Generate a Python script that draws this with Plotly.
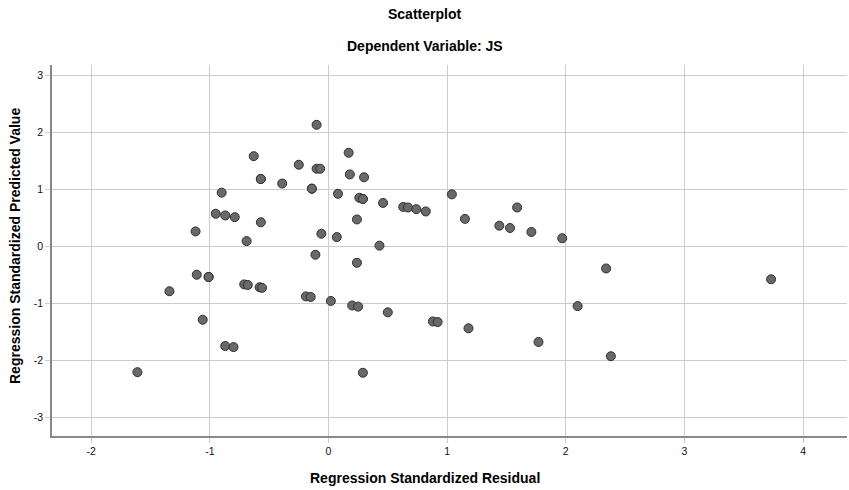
import plotly.graph_objects as go

# Regression standardized residual (x) and standardized predicted value (y)
residual = [-0.10, -0.63, 0.17, -0.25, -0.10, -0.07, -0.57, -0.57, -0.39, 0.18,
            0.30, -0.14, -0.14, -0.90, 0.08, 0.26, 0.29, 0.29, 0.46, 0.63,
            0.67, 0.74, 0.82, -0.95, -0.87, -0.79, 0.24, -0.57, -1.12, -0.06,
            0.07, -0.69, 0.43, -0.11, 0.24, -1.11, -1.01, -1.01, -0.71, -0.68,
            -0.58, -0.56, -1.34, -0.19, -0.15, 0.02, 0.20, 0.25, 0.50, 0.88,
            0.92, -1.06, -0.87, -0.80, -1.61, 0.29, 1.04, 1.15, 1.59, 1.44,
            1.53, 1.71, 1.97, 2.34, 3.73, 2.10, 1.18, 1.77, 2.38]
predicted = [2.13, 1.58, 1.64, 1.43, 1.36, 1.36, 1.18, 1.18, 1.10, 1.26,
             1.21, 1.01, 1.01, 0.94, 0.92, 0.85, 0.83, 0.83, 0.76, 0.69,
             0.68, 0.65, 0.61, 0.57, 0.54, 0.51, 0.47, 0.42, 0.26, 0.22,
             0.16, 0.09, 0.01, -0.15, -0.29, -0.50, -0.54, -0.54, -0.67, -0.68,
             -0.72, -0.73, -0.79, -0.88, -0.89, -0.96, -1.04, -1.06, -1.16, -1.32,
             -1.33, -1.29, -1.75, -1.77, -2.21, -2.22, 0.91, 0.48, 0.68, 0.36,
             0.32, 0.25, 0.14, -0.39, -0.58, -1.05, -1.44, -1.68, -1.93]

x_ticks = [-2, -1, 0, 1, 2, 3, 4]
y_ticks = [-3, -2, -1, 0, 1, 2, 3]

title_main = "Scatterplot"
title_sub = "Dependent Variable: JS"
x_title = "Regression Standardized Residual"
y_title = "Regression Standardized Predicted Value"

W, H = 849, 490
ML, MR, MT, MB = 52, 2, 65, 54
plot_w = W - ML - MR
plot_h = H - MT - MB

tick_font = dict(family="Liberation Sans Narrow, Arial Narrow, Liberation Sans, Arial", size=10.5, color="#111111")
bold_font = dict(family="Liberation Sans, Arial, sans-serif", size=14, color="#000000")


def py2paper(py):
    return 1 + (MT - py) / plot_h


def px2paper(px):
    return (px - ML) / plot_w


fig = go.Figure()
fig.add_trace(go.Scatter(
    x=residual, y=predicted, mode="markers",
    marker=dict(size=9, color="#696969", line=dict(color="#303030", width=1)),
    hoverinfo="x+y", showlegend=False,
))

annotations = [
    dict(text="<b>%s</b>" % title_main, x=px2paper(W / 2), y=py2paper(14)),
    dict(text="<b>%s</b>" % title_sub, x=px2paper(W / 2), y=py2paper(46)),
    dict(text="<b>%s</b>" % x_title, x=px2paper(W / 2), y=py2paper(478)),
    dict(text="<b>%s</b>" % y_title, x=px2paper(15), y=py2paper(246), textangle=-90),
]
for a in annotations:
    a.update(xref="paper", yref="paper", showarrow=False, font=bold_font,
             xanchor="center", yanchor="middle")

fig.update_layout(
    width=W, height=H,
    margin=dict(l=ML, r=MR, t=MT, b=MB, autoexpand=False),
    paper_bgcolor="white", plot_bgcolor="white",
    annotations=annotations,
)

fig.update_xaxes(
    range=[-2.33, 4.37], tickvals=x_ticks, ticktext=[str(v) for v in x_ticks],
    showgrid=True, gridcolor="#cccccc", gridwidth=1,
    showline=True, linecolor="#888888", linewidth=1.5,
    ticks="outside", ticklen=5, tickcolor="#cccccc",
    zeroline=False, tickfont=tick_font, automargin=False,
)
fig.update_yaxes(
    range=[-3.33, 3.18], tickvals=y_ticks, ticktext=[str(v) for v in y_ticks],
    showgrid=True, gridcolor="#cccccc", gridwidth=1,
    showline=True, linecolor="#888888", linewidth=1.5,
    ticks="outside", ticklen=5, tickcolor="#cccccc",
    zeroline=False, tickfont=tick_font, automargin=False,
)

fig.write_html("out.html", config={"displayModeBar": False},
               post_script="document.body.style.margin='0';")
